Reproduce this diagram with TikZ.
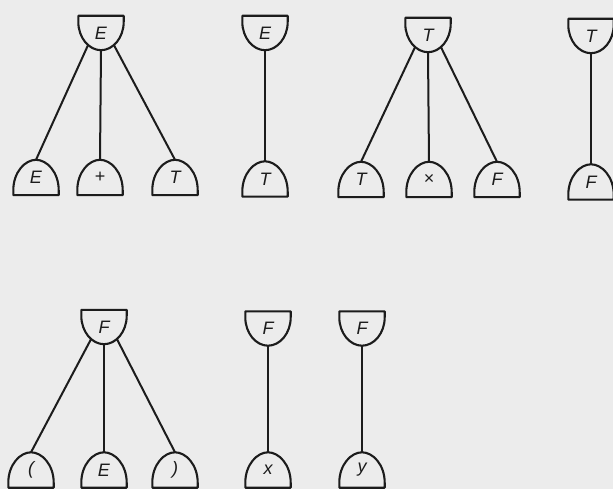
\documentclass[tikz,border=0pt]{standalone}
\usepackage{fontspec}
\setmainfont{Liberation Sans}
\usetikzlibrary{calc}
\definecolor{bg}{RGB}{236,236,236}
\definecolor{ink}{RGB}{28,28,28}
\begin{document}
\begin{tikzpicture}[x=1pt,y=-1pt,
  lbl/.style={inner sep=0pt, minimum width=45pt, font=\fontsize{18}{18}\selectfont\itshape, text=ink},
  cup/.style={lbl, minimum height=34pt},
  dome/.style={lbl, minimum height=35pt},
  outline/.style={draw=ink, line width=2.1pt, line join=round},
  conn/.style={draw=ink, line width=2pt}]
\fill[bg] (0,0) rectangle (613,489);
\useasboundingbox (0,0) rectangle (613,489);
% tree 1
\node[cup]  (r1) at (101,33) {E};
\node[dome] (c1a) at (36,177.5) {E};
\node[dome] (c1b) at (100,177.5) {+};
\node[dome] (c1c) at (175,177.5) {T};
% tree 2
\node[cup]  (r2) at (265,33) {E};
\node[dome] (c2) at (265,179) {T};
% tree 3
\node[cup]  (r3) at (428,35) {T};
\node[dome] (c3a) at (361,179.5) {T};
\node[dome] (c3b) at (429,179.5) {×};
\node[dome] (c3c) at (497,179.5) {F};
% tree 4
\node[cup]  (r4) at (591,36) {T};
\node[dome] (c4) at (591,182) {F};
% tree 5
\node[cup]  (r5) at (104,327) {F};
\node[dome] (c5a) at (31,470) {(};
\node[dome] (c5b) at (104,470) {E};
\node[dome] (c5c) at (175,470) {)};
% tree 6
\node[cup]  (r6) at (268,328.5) {F};
\node[dome] (c6) at (268,470) {x};
% tree 7
\node[cup]  (r7) at (362,328.5) {F};
\node[dome] (c7) at (362,470) {y};
% connectors
\draw[conn] ($(r1.south)+(-13pt,5pt)$) -- (c1a.north);
\draw[conn] (r1.south) -- (c1b.north);
\draw[conn] ($(r1.south)+(13pt,5pt)$) -- (c1c.north);
\draw[conn] (r2.south) -- (c2.north);
\draw[conn] ($(r3.south)+(-13pt,5pt)$) -- (c3a.north);
\draw[conn] (r3.south) -- (c3b.north);
\draw[conn] ($(r3.south)+(13pt,5pt)$) -- (c3c.north);
\draw[conn] (r4.south) -- (c4.north);
\draw[conn] ($(r5.south)+(-13pt,5pt)$) -- (c5a.north);
\draw[conn] (r5.south) -- (c5b.north);
\draw[conn] ($(r5.south)+(13pt,5pt)$) -- (c5c.north);
\draw[conn] (r6.south) -- (c6.north);
\draw[conn] (r7.south) -- (c7.north);
% cup outlines
\foreach \n in {r1,r2,r3,r4,r5,r6,r7}
  \draw[outline] (\n.north west) -- (\n.north east) -- ++(0,-6pt)
    .. controls +(0,-16pt) and +(12pt,0) .. (\n.south)
    .. controls +(-12pt,0) and ($(\n.north west)+(0,-22pt)$) .. ($(\n.north west)+(0,-6pt)$) -- cycle;
% dome outlines
\foreach \n in {c1a,c1b,c1c,c2,c3a,c3b,c3c,c4,c5a,c5b,c5c,c6,c7}
  \draw[outline] (\n.south west) -- (\n.south east) -- ++(0,5pt)
    .. controls +(0,18pt) and +(11pt,0) .. (\n.north)
    .. controls +(-11pt,0) and ($(\n.south west)+(0,23pt)$) .. ($(\n.south west)+(0,5pt)$) -- cycle;
\end{tikzpicture}
\end{document}
